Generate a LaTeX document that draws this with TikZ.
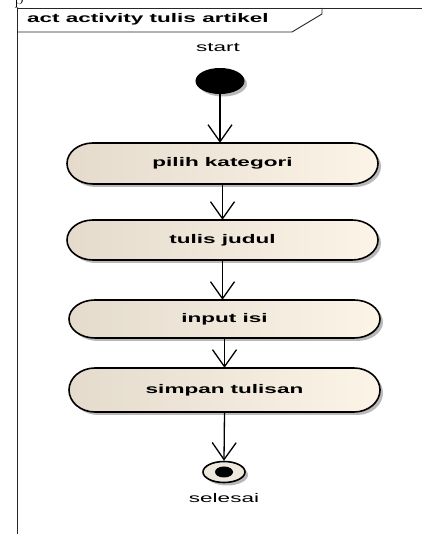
\documentclass[tikz,border=0pt]{standalone}
\usepackage{fontspec}
\usetikzlibrary{shapes.geometric,shadows,arrows.meta}
\newfontfamily\umlfont[FakeStretch=1.8]{Liberation Sans}
\newfontfamily\umlbold[FakeStretch=1.8]{Liberation Sans Bold}
\definecolor{actL}{RGB}{228,219,205}
\definecolor{actR}{RGB}{252,244,231}
\definecolor{endfill}{RGB}{238,231,219}

% action box outline: straight top/bottom with elliptic ends
\newcommand\actbox[5]{%
  \path[actbody] (#2-129.5,#3+#4) -- (#2+129.5,#3+#4)
    arc[start angle=90,end angle=-90,x radius=26pt,y radius=#4pt]
    -- (#2-129.5,#3-#4)
    arc[start angle=270,end angle=90,x radius=26pt,y radius=#4pt] -- cycle;
  \node[acttext,minimum height=2*#4pt] (#1) at (#2,#3) {#5};}

\tikzset{
  x=1pt,y=1pt,
  umlshadow/.style={drop shadow={shadow xshift=3pt,shadow yshift=-3pt,fill=black!50,opacity=0.55}},
  actbody/.style={draw=black,line width=1.6pt,left color=actL,right color=actR,umlshadow},
  acttext/.style={inner sep=0pt,minimum width=311pt,font=\umlbold\fontsize{12.5}{14}\selectfont},
  label/.style={inner sep=0pt,font=\umlfont\fontsize{12.5}{14}\selectfont},
  initial/.style={ellipse,fill=black,draw=black,line width=1pt,minimum width=48pt,minimum height=25pt,inner sep=0pt,umlshadow},
  final/.style={ellipse,fill=endfill,draw=black,line width=1.6pt,minimum width=42pt,minimum height=21pt,inner sep=0pt,umlshadow},
  finaldot/.style={ellipse,fill=black,minimum width=18pt,minimum height=11pt,inner sep=0pt},
  flow/.style={line width=1.3pt,-{Straight Barb[length=17pt,width=24pt,line width=1.3pt]}},
  frameline/.style={line width=0.9pt,draw=black!85},
}

\begin{document}
\begin{tikzpicture}
\useasboundingbox (0,0) rectangle (422,534);
\clip (0,0) rectangle (422,534);

% stray glyph cut at the top edge
\node[anchor=base,inner sep=0pt,font=\fontsize{18}{18}\selectfont] (p) at (19,529.5) {p};

% frame with its name tab
\draw[frameline] (17,0) -- (17,526) -- (422,526);
\draw[frameline] (17,502) -- (292,502) -- (322,520) -- (322,526);
\node[anchor=west,inner sep=0pt,font=\umlbold\fontsize{12.5}{14}\selectfont] (title) at (27,515) {act activity tulis artikel};

% start
\node[label] (startlbl) at (218,486) {start};
\node[initial] (s) at (220,453) {};

% actions
\actbox{a1}{222.5}{370.5}{20.5}{pilih kategori}
\actbox{a2}{222.5}{294}{20}{tulis judul}
\actbox{a3}{224.5}{215}{19}{input isi}
\actbox{a4}{224.5}{144}{22}{simpan tulisan}

% end
\node[final] (e) at (224,62) {};
\node[finaldot] (edot) at (e.center) {};
\node[label] (endlbl) at (224,36) {selesai};

% flows
\draw[flow] (s.south) -- (s.south |- a1.north);
\draw[flow] (a1.south) -- (a2.north);
\draw[flow] (a2.south) -- (a2.south |- a3.north);
\draw[flow] (a3.south) -- (a4.north);
\draw[flow] (a4.south) -- (e.north);
\end{tikzpicture}
\end{document}
